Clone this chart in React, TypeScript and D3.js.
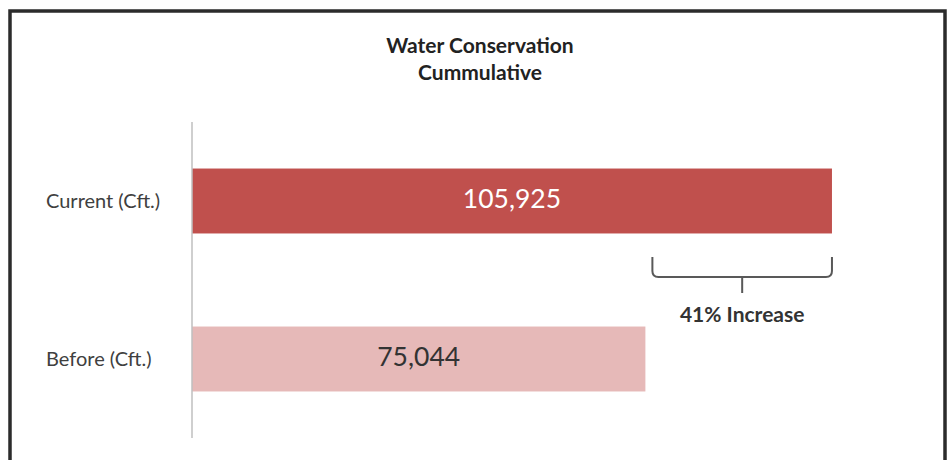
import React from "react";
import * as d3 from "d3";

const categories = ["Current (Cft.)", "Before (Cft.)"];
const values = [105925, 75044];
const titleLines = ["Water Conservation", "Cummulative"];
const barColors = ["#C0504D", "#E6B9B8"];
const valueColors = ["#FFFFFF", "#333333"];

const W = 951;
const H = 460;

export default function App() {
  const x = d3.scaleLinear().domain([0, 120000]).range([192, 917]);
  const y = d3
    .scaleBand<string>()
    .domain(categories)
    .range([122, 438])
    .paddingInner(0.589)
    .paddingOuter(0.2945);

  const fmt = d3.format(",");
  const pct = Math.round((values[0] / values[1] - 1) * 100);

  const bx0 = x(values[1]) + 7;
  const bx1 = x(values[0]);
  const bTop = 257;
  const bMid = 277;
  const r = 6;
  const cx = (bx0 + bx1) / 2;
  const brace = d3.path();
  brace.moveTo(bx0, bTop);
  brace.lineTo(bx0, bMid - r);
  brace.quadraticCurveTo(bx0, bMid, bx0 + r, bMid);
  brace.lineTo(bx1 - r, bMid);
  brace.quadraticCurveTo(bx1, bMid, bx1, bMid - r);
  brace.lineTo(bx1, bTop);
  brace.moveTo(cx, bMid);
  brace.lineTo(cx, bMid + 16);

  const font = "Lato, 'Open Sans', sans-serif";

  return (
    <svg
      width={W}
      height={H}
      style={{ position: "absolute", left: 0, top: 0, background: "#fff" }}
      fontFamily={font}
    >
      <rect x={0} y={0} width={W} height={H} fill="#fff" />
      <rect
        x={10}
        y={11}
        width={935}
        height={470}
        fill="none"
        stroke="#2b2b2b"
        strokeWidth={3.5}
      />
      {titleLines.map((t, i) => (
        <text
          key={t}
          x={480}
          y={53 + i * 27}
          textAnchor="middle"
          fontWeight="bold"
          fontSize={21}
          fill="#222"
        >
          {t}
        </text>
      ))}
      {categories.map((c, i) => {
        const yy = y(c)!;
        const bw = y.bandwidth();
        return (
          <g key={c}>
            <rect
              x={x(0)}
              y={yy}
              width={x(values[i]) - x(0)}
              height={bw}
              fill={barColors[i]}
            />
            <text
              x={46}
              y={yy + bw / 2 + 6.5}
              fontSize={20}
              fill="#404040"
            >
              {c}
            </text>
            <text
              x={(x(0) + x(values[i])) / 2}
              y={yy + bw / 2 + 7}
              fontSize={26.5}
              textAnchor="middle"
              fill={valueColors[i]}
            >
              {fmt(values[i])}
            </text>
          </g>
        );
      })}
      <line
        x1={x(0)}
        x2={x(0)}
        y1={122}
        y2={438}
        stroke="#BFBFBF"
        strokeWidth={1.5}
      />
      <path d={brace.toString()} fill="none" stroke="#595959" strokeWidth={2} />
      <text
        x={cx}
        y={322}
        textAnchor="middle"
        fontWeight="bold"
        fontSize={21}
        fill="#333"
      >
        {pct}% Increase
      </text>
    </svg>
  );
}
